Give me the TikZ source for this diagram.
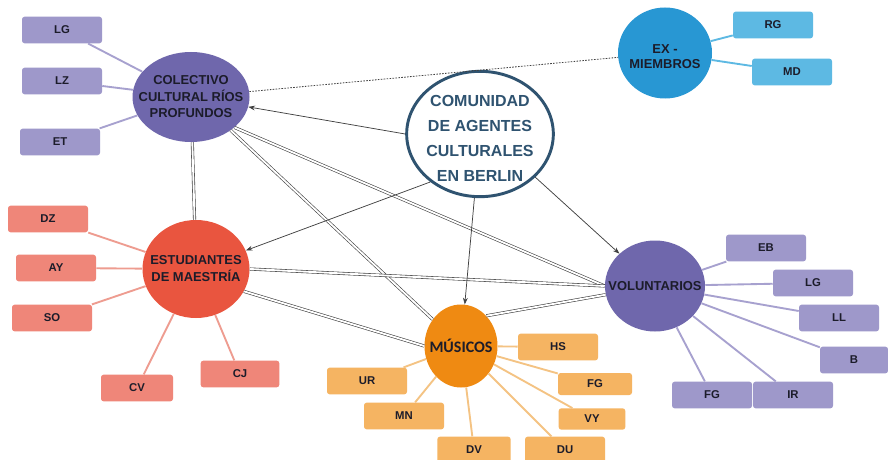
\documentclass[tikz,border=0pt]{standalone}
\usepackage{fontspec}
\setmainfont{Liberation Sans}
\newfontfamily\calfont{Carlito}
\usetikzlibrary{shapes.geometric,arrows.meta}
\definecolor{purp}{HTML}{6F67AC}
\definecolor{purplt}{HTML}{9E98CA}
\definecolor{purpln}{HTML}{A7A1CF}
\definecolor{exblue}{HTML}{2897D3}
\definecolor{exlt}{HTML}{5DB9E3}
\definecolor{estred}{HTML}{E9553F}
\definecolor{estlt}{HTML}{EF8679}
\definecolor{estln}{HTML}{EE9C90}
\definecolor{musor}{HTML}{EF8A12}
\definecolor{muslt}{HTML}{F5B462}
\definecolor{musln}{HTML}{F4C383}
\definecolor{comblue}{HTML}{2F5370}
\definecolor{txt}{HTML}{1C1C2A}

\begin{document}
\begin{tikzpicture}[x=0.75pt,y=-0.75pt,
    grp/.style={ellipse, inner sep=0pt},
    grptxt/.style={align=center, text=txt, inner sep=0pt,
      font=\bfseries\fontsize{9.7}{12.4}\selectfont},
    memb/.style={rectangle, rounded corners=2pt, minimum width=60pt,
      minimum height=20pt, inner sep=0pt, text=txt,
      font=\bfseries\fontsize{8.5}{10}\selectfont},
    spoke/.style={line width=1.4pt},
    link/.style={double, draw=black!75, line width=0.45pt, double distance=1.4pt},
    flow/.style={draw=black!75, line width=0.55pt, -{Stealth[length=5pt,width=3.6pt]}}]

    \fill[white] (0,0) rectangle (888,460);
    \useasboundingbox (0,0) rectangle (888,460);

    % colectivo
    \node[grp, fill=purp, minimum width=87.75pt, minimum height=67.5pt] (col) at (191,97) {};
    \node[grptxt] (coltxt) at (col) {COLECTIVO\\CULTURAL RÍOS\\PROFUNDOS};
    \node[memb, fill=purplt] (colLG) at (62,30) {LG};
    \node[memb, fill=purplt] (colLZ) at (62,81) {LZ};
    \node[memb, fill=purplt] (colET) at (60,142) {ET};
    \draw[spoke, purpln] (colLG) -- (col) (colLZ) -- (col) (colET) -- (col);

    % comunidad
    \node[grp, draw=comblue, line width=2.2pt, fill=white, minimum width=110pt, minimum height=94pt] (com) at (480,134) {};
    \node[grptxt, text=comblue, font=\bfseries\fontsize{12}{18.75}\selectfont, yshift=-3pt] (comtxt) at (com)
      {COMUNIDAD\\DE AGENTES\\CULTURALES\\EN BERLIN};

    % ex-miembros
    \node[grp, fill=exblue, minimum width=70.5pt, minimum height=68.25pt] (exm) at (665,53) {};
    \node[grptxt, font=\bfseries\fontsize{9.7}{11.3}\selectfont, yshift=-3pt] (exmtxt) at (exm) {EX -\\MIEMBROS};
    \node[memb, fill=exlt] (exRG) at (773,25) {RG};
    \node[memb, fill=exlt] (exMD) at (792,72) {MD};
    \draw[spoke, exlt] (exRG) -- (exm) (exMD) -- (exm);

    % estudiantes
    \node[grp, fill=estred, minimum width=80.25pt, minimum height=73.5pt] (est) at (196,269) {};
    \node[grptxt, font=\bfseries\fontsize{9.7}{12.75}\selectfont] (esttxt) at (est) {ESTUDIANTES\\DE MAESTRÍA};
    \node[memb, fill=estlt] (estDZ) at (48,219) {DZ};
    \node[memb, fill=estlt] (estAY) at (56,268) {AY};
    \node[memb, fill=estlt] (estSO) at (52,318) {SO};
    \node[memb, fill=estlt, minimum width=54pt] (estCV) at (137,388) {CV};
    \node[memb, fill=estlt, minimum width=59pt] (estCJ) at (240,374) {CJ};
    \draw[spoke, estln] (estDZ) -- (est) (estAY) -- (est) (estSO) -- (est)
      (estCV) -- (est) (estCJ) -- (est);

    % musicos
    \node[grp, fill=musor, minimum width=54.75pt, minimum height=62.25pt] (mus) at (461,346) {};
    \node[grptxt, font=\calfont\bfseries\fontsize{12}{14}\selectfont] (mustxt) at (mus) {MÚSICOS};
    \node[memb, fill=muslt] (musHS) at (558,347) {HS};
    \node[memb, fill=muslt, minimum width=55.5pt, minimum height=16.5pt] (musFG) at (595,384) {FG};
    \node[memb, fill=muslt, minimum width=50pt, minimum height=16pt] (musVY) at (592,419) {VY};
    \node[memb, fill=muslt] (musDU) at (565,450) {DU};
    \node[memb, fill=muslt, minimum width=55pt] (musDV) at (474,450) {DV};
    \node[memb, fill=muslt] (musMN) at (404,416) {MN};
    \node[memb, fill=muslt] (musUR) at (367,381) {UR};
    \draw[spoke, musln] (musHS) -- (mus) (musFG) -- (mus) (musVY) -- (mus) (musDU) -- (mus)
      (musDV) -- (mus) (musMN) -- (mus) (musUR) -- (mus);

    % voluntarios
    \node[grp, fill=purp, minimum width=75pt, minimum height=68.25pt] (vol) at (655,286) {};
    \node[grptxt] (voltxt) at (vol) {VOLUNTARIOS};
    \node[memb, fill=purplt] (volEB) at (766,248) {EB};
    \node[memb, fill=purplt] (volLG) at (813,283) {LG};
    \node[memb, fill=purplt] (volLL) at (839,318) {LL};
    \node[memb, fill=purplt, minimum width=51pt] (volB) at (854,360) {B};
    \node[memb, fill=purplt] (volFG) at (712,395) {FG};
    \node[memb, fill=purplt] (volIR) at (793,395) {IR};
    \draw[spoke, purpln] (volEB) -- (vol) (volLG) -- (vol) (volLL) -- (vol)
      (volB) -- (vol) (volFG) -- (vol) (volIR) -- (vol);

    % relations between groups
    \draw[black!75, line width=0.6pt, dash pattern=on 1.2pt off 1pt] (col) -- (exm);
    \draw[link] (col) -- (est);
    \draw[link] (col.-35) -- (vol.west);
    \draw[link] (col.-40) -- (mus);
    \draw[link] (est.east) -- (vol.west);
    \draw[link] (est.-25) -- (mus.west);
    \draw[link] (mus.50) -- (vol.190);

    \draw[flow] (com.west) -- (col);
    \draw[flow] (com.224) -- (est);
    \draw[flow] (com.265) -- (mus);
    \draw[flow] (com.-38) -- (vol);
\end{tikzpicture}
\end{document}
